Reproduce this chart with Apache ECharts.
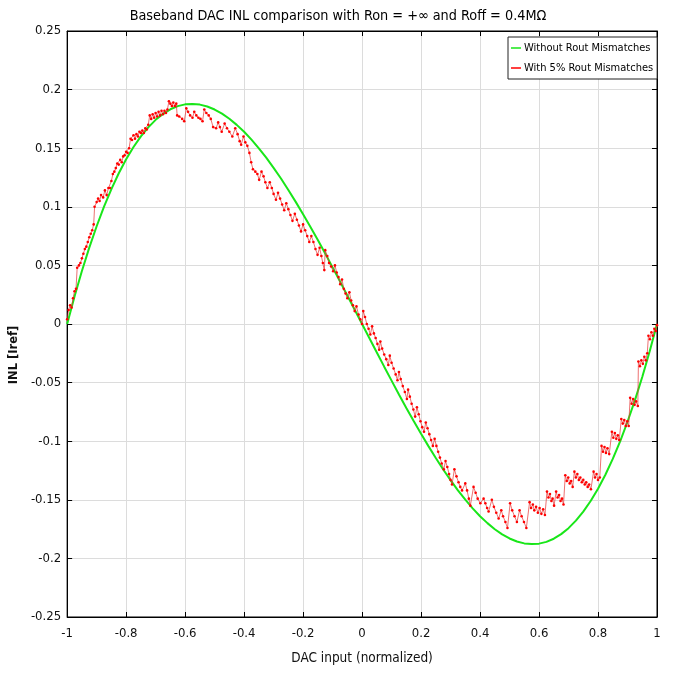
<!DOCTYPE html>
<html><head><meta charset="utf-8">
<script src="https://cdn.jsdelivr.net/npm/echarts@6/dist/echarts.min.js"></script>
<style>html,body{margin:0;padding:0;background:#fff}#c{width:676px;height:675px}</style>
</head><body><div id="c"></div>
<script>
const titleText = 'Baseband DAC INL comparison with Ron = +\u221e and Roff = 0.4M\u03a9';
const xName = 'DAC input (normalized)';
const yName = 'INL [Iref]';
const seriesNames = ['Without Rout Mismatches', 'With 5% Rout Mismatches'];

const greenX = [-1,-0.975,-0.95,-0.925,-0.9,-0.875,-0.85,-0.825,-0.8,-0.775,-0.75,-0.725,-0.7,-0.675,-0.65,-0.625,-0.6,-0.575,-0.55,-0.525,-0.5,-0.475,-0.45,-0.425,-0.4,-0.375,-0.35,-0.325,-0.3,-0.275,-0.25,-0.225,-0.2,-0.175,-0.15,-0.125,-0.1,-0.075,-0.05,-0.025,0,0.025,0.05,0.075,0.1,0.125,0.15,0.175,0.2,0.225,0.25,0.275,0.3,0.325,0.35,0.375,0.4,0.425,0.45,0.475,0.5,0.525,0.55,0.575,0.6,0.625,0.65,0.675,0.7,0.725,0.75,0.775,0.8,0.825,0.85,0.875,0.9,0.925,0.95,0.975,1];
const greenY = [0,0.0235,0.0452,0.0652,0.0834,0.1001,0.1151,0.1286,0.1405,0.151,0.1601,0.1678,0.1742,0.1793,0.1832,0.1859,0.1874,0.1878,0.1872,0.1856,0.183,0.1795,0.1751,0.1699,0.164,0.1573,0.1499,0.1419,0.1332,0.1241,0.1144,0.1042,0.0937,0.0828,0.0716,0.0601,0.0483,0.0364,0.0243,0.0122,0,-0.0122,-0.0243,-0.0364,-0.0483,-0.0601,-0.0716,-0.0828,-0.0937,-0.1042,-0.1144,-0.1241,-0.1332,-0.1419,-0.1499,-0.1573,-0.164,-0.1699,-0.1751,-0.1795,-0.183,-0.1856,-0.1872,-0.1878,-0.1874,-0.1859,-0.1832,-0.1793,-0.1742,-0.1678,-0.1601,-0.151,-0.1405,-0.1286,-0.1151,-0.1001,-0.0834,-0.0652,-0.0452,-0.0235,0];

const redPts = [[-1,0.004],[-0.995,0.012],[-0.99,0.016],[-0.985,0.014],[-0.98,0.022],[-0.975,0.028],[-0.97,0.03],[-0.966,0.048],[-0.96,0.05],[-0.955,0.052],[-0.95,0.056],[-0.945,0.06],[-0.94,0.064],[-0.935,0.066],[-0.93,0.07],[-0.925,0.074],[-0.92,0.077],[-0.915,0.08],[-0.91,0.085],[-0.907,0.1],[-0.9,0.104],[-0.895,0.107],[-0.89,0.105],[-0.885,0.11],[-0.878,0.108],[-0.872,0.114],[-0.866,0.11],[-0.86,0.116],[-0.855,0.116],[-0.85,0.122],[-0.845,0.128],[-0.84,0.13],[-0.835,0.133],[-0.83,0.137],[-0.825,0.136],[-0.82,0.14],[-0.815,0.138],[-0.81,0.143],[-0.805,0.144],[-0.8,0.147],[-0.795,0.146],[-0.79,0.15],[-0.785,0.158],[-0.78,0.157],[-0.775,0.161],[-0.77,0.158],[-0.765,0.162],[-0.76,0.16],[-0.755,0.164],[-0.75,0.163],[-0.745,0.165],[-0.74,0.163],[-0.735,0.167],[-0.73,0.166],[-0.725,0.17],[-0.72,0.178],[-0.715,0.175],[-0.71,0.179],[-0.705,0.176],[-0.7,0.18],[-0.695,0.177],[-0.69,0.181],[-0.685,0.178],[-0.68,0.182],[-0.675,0.179],[-0.67,0.182],[-0.665,0.18],[-0.66,0.183],[-0.655,0.19],[-0.65,0.188],[-0.645,0.186],[-0.64,0.189],[-0.635,0.186],[-0.63,0.188],[-0.627,0.178],[-0.62,0.177],[-0.61,0.175],[-0.603,0.173],[-0.596,0.184],[-0.59,0.181],[-0.583,0.178],[-0.575,0.176],[-0.569,0.181],[-0.562,0.178],[-0.555,0.176],[-0.548,0.175],[-0.541,0.173],[-0.535,0.183],[-0.528,0.18],[-0.52,0.178],[-0.513,0.175],[-0.505,0.168],[-0.495,0.167],[-0.488,0.172],[-0.482,0.168],[-0.476,0.164],[-0.466,0.171],[-0.458,0.167],[-0.45,0.164],[-0.44,0.16],[-0.43,0.167],[-0.422,0.162],[-0.415,0.156],[-0.41,0.153],[-0.402,0.16],[-0.396,0.155],[-0.389,0.152],[-0.382,0.146],[-0.376,0.138],[-0.37,0.132],[-0.362,0.13],[-0.355,0.128],[-0.349,0.123],[-0.341,0.13],[-0.334,0.126],[-0.328,0.121],[-0.321,0.116],[-0.313,0.121],[-0.306,0.116],[-0.3,0.111],[-0.292,0.106],[-0.285,0.112],[-0.278,0.107],[-0.271,0.102],[-0.264,0.097],[-0.257,0.103],[-0.25,0.098],[-0.243,0.093],[-0.236,0.088],[-0.228,0.094],[-0.221,0.089],[-0.214,0.084],[-0.207,0.079],[-0.2,0.085],[-0.193,0.08],[-0.186,0.075],[-0.179,0.07],[-0.172,0.075],[-0.165,0.07],[-0.158,0.064],[-0.151,0.059],[-0.144,0.065],[-0.138,0.058],[-0.133,0.052],[-0.128,0.046],[-0.125,0.063],[-0.118,0.058],[-0.112,0.052],[-0.105,0.049],[-0.098,0.045],[-0.092,0.05],[-0.086,0.044],[-0.08,0.04],[-0.074,0.034],[-0.068,0.038],[-0.062,0.03],[-0.056,0.026],[-0.05,0.022],[-0.043,0.027],[-0.037,0.02],[-0.031,0.016],[-0.025,0.011],[-0.019,0.015],[-0.012,0.008],[-0.006,0.004],[0,0],[0.004,0.011],[0.01,0.006],[0.016,0],[0.022,-0.004],[0.028,-0.009],[0.034,-0.002],[0.04,-0.008],[0.046,-0.012],[0.052,-0.017],[0.058,-0.022],[0.062,-0.015],[0.068,-0.021],[0.075,-0.026],[0.082,-0.03],[0.089,-0.035],[0.094,-0.027],[0.1,-0.033],[0.107,-0.038],[0.114,-0.043],[0.12,-0.048],[0.125,-0.041],[0.131,-0.047],[0.138,-0.053],[0.145,-0.058],[0.152,-0.064],[0.156,-0.056],[0.162,-0.062],[0.168,-0.068],[0.174,-0.073],[0.18,-0.079],[0.186,-0.071],[0.192,-0.077],[0.198,-0.083],[0.204,-0.088],[0.21,-0.092],[0.216,-0.084],[0.222,-0.089],[0.228,-0.094],[0.234,-0.099],[0.24,-0.104],[0.246,-0.098],[0.252,-0.104],[0.258,-0.109],[0.264,-0.114],[0.27,-0.119],[0.277,-0.124],[0.283,-0.117],[0.289,-0.122],[0.295,-0.128],[0.3,-0.133],[0.305,-0.137],[0.313,-0.124],[0.32,-0.13],[0.327,-0.135],[0.333,-0.139],[0.339,-0.142],[0.35,-0.136],[0.356,-0.142],[0.362,-0.149],[0.367,-0.155],[0.378,-0.139],[0.385,-0.144],[0.392,-0.149],[0.401,-0.153],[0.412,-0.149],[0.418,-0.153],[0.424,-0.157],[0.429,-0.16],[0.44,-0.15],[0.447,-0.156],[0.455,-0.161],[0.463,-0.166],[0.472,-0.159],[0.478,-0.164],[0.486,-0.169],[0.493,-0.174],[0.502,-0.153],[0.509,-0.159],[0.517,-0.164],[0.525,-0.169],[0.534,-0.159],[0.541,-0.164],[0.549,-0.169],[0.557,-0.174],[0.568,-0.152],[0.573,-0.157],[0.579,-0.154],[0.584,-0.159],[0.59,-0.156],[0.596,-0.161],[0.602,-0.157],[0.608,-0.162],[0.614,-0.158],[0.62,-0.163],[0.627,-0.143],[0.632,-0.148],[0.637,-0.145],[0.642,-0.151],[0.646,-0.149],[0.651,-0.155],[0.658,-0.143],[0.663,-0.148],[0.668,-0.146],[0.673,-0.151],[0.678,-0.149],[0.683,-0.154],[0.689,-0.129],[0.694,-0.134],[0.699,-0.131],[0.704,-0.136],[0.709,-0.134],[0.714,-0.139],[0.72,-0.126],[0.725,-0.131],[0.73,-0.128],[0.735,-0.133],[0.74,-0.131],[0.745,-0.135],[0.75,-0.133],[0.755,-0.137],[0.76,-0.135],[0.765,-0.139],[0.77,-0.137],[0.776,-0.141],[0.785,-0.126],[0.79,-0.131],[0.795,-0.128],[0.8,-0.133],[0.806,-0.131],[0.812,-0.104],[0.817,-0.109],[0.822,-0.105],[0.827,-0.11],[0.832,-0.106],[0.838,-0.111],[0.847,-0.092],[0.852,-0.097],[0.857,-0.093],[0.862,-0.098],[0.867,-0.095],[0.872,-0.099],[0.879,-0.081],[0.884,-0.085],[0.889,-0.082],[0.894,-0.087],[0.899,-0.083],[0.904,-0.087],[0.909,-0.063],[0.914,-0.068],[0.919,-0.064],[0.924,-0.069],[0.929,-0.066],[0.935,-0.07],[0.937,-0.032],[0.942,-0.036],[0.947,-0.031],[0.952,-0.034],[0.957,-0.028],[0.962,-0.031],[0.967,-0.025],[0.971,-0.01],[0.976,-0.013],[0.981,-0.007],[0.986,-0.01],[0.991,-0.004],[0.996,-0.006],[1,-0.001]];

const FONT = "'DejaVu Sans Condensed','DejaVu Sans',sans-serif";
const fmt = v => String(parseFloat(Number(v).toFixed(2)));

const chart = echarts.init(document.getElementById('c'), null, {renderer: 'canvas'});
const tickStyle = {show: true, inside: true, length: 5, lineStyle: {color: '#000', width: 1}};
const gridLine = {show: true, lineStyle: {color: '#dcdcdc', width: 1}};
chart.setOption({
  animation: false,
  backgroundColor: '#fff',
  title: {text: titleText, left: 'center', top: 4,
    textStyle: {fontFamily: FONT, fontSize: 14.3, fontWeight: 'normal', color: '#000'}},
  grid: {left: 66, right: 19, top: 31, bottom: 58, show: true, borderColor: '#000', borderWidth: 1, backgroundColor: '#fff'},
  legend: {
    orient: 'vertical', left: 508, top: 37, padding: [1, 4, 1, 3], itemGap: 0,
    borderColor: '#222', borderWidth: 1, backgroundColor: '#fff',
    itemWidth: 10, itemHeight: 1.5, icon: 'rect',
    textStyle: {fontFamily: FONT, fontSize: 11, color: '#000', lineHeight: 20, padding: [0, 0, 0, -2]},
    data: seriesNames
  },
  xAxis: [{
    type: 'value', min: -1, max: 1, interval: 0.2,
    name: xName, nameLocation: 'middle', nameGap: 34,
    nameTextStyle: {fontFamily: FONT, fontSize: 13.5, color: '#111'},
    axisLine: {show: true, onZero: false, lineStyle: {color: '#000'}},
    axisTick: tickStyle, splitLine: gridLine,
    axisLabel: {fontFamily: FONT, fontSize: 13, color: '#111', margin: 10, formatter: fmt}
  }, {
    type: 'value', min: -1, max: 1, interval: 0.2, position: 'top',
    axisLine: {show: true, onZero: false, lineStyle: {color: '#000'}},
    axisTick: tickStyle, splitLine: {show: false}, axisLabel: {show: false}
  }],
  yAxis: [{
    type: 'value', min: -0.25, max: 0.25, interval: 0.05,
    name: yName, nameLocation: 'middle', nameGap: 36,
    nameTextStyle: {fontFamily: "'DejaVu Sans', sans-serif", fontSize: 11.5, fontWeight: 'bold', color: '#111', padding: [0, 62, 0, 0]},
    axisLine: {show: true, onZero: false, lineStyle: {color: '#000'}},
    axisTick: tickStyle, splitLine: gridLine,
    axisLabel: {fontFamily: FONT, fontSize: 13, color: '#111', margin: 6, formatter: fmt}
  }, {
    type: 'value', min: -0.25, max: 0.25, interval: 0.05, position: 'right',
    axisLine: {show: true, onZero: false, lineStyle: {color: '#000'}},
    axisTick: tickStyle, splitLine: {show: false}, axisLabel: {show: false}
  }],
  series: [{
    name: seriesNames[0], type: 'line', smooth: false, showSymbol: false, symbol: 'none',
    data: greenX.map((x, i) => [x, greenY[i]]),
    lineStyle: {color: '#19e619', width: 2}, itemStyle: {color: '#19e619'}, z: 3
  }, {
    name: seriesNames[1], type: 'line', smooth: false, symbol: 'circle', symbolSize: 2.6, showSymbol: true,
    data: redPts,
    lineStyle: {color: '#e43333', width: 0.7}, itemStyle: {color: '#ff0000', borderWidth: 0}, z: 4
  }]
});
</script>
</body></html>
